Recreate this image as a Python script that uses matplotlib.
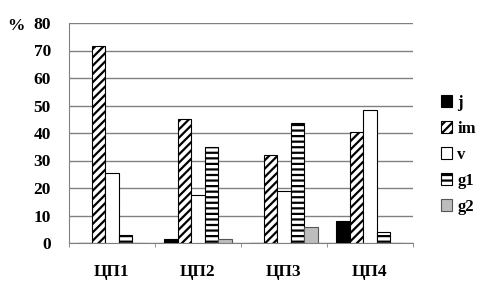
import matplotlib
matplotlib.use("Agg")
import matplotlib.pyplot as plt
import numpy as np

categories = ["ЦП1", "ЦП2", "ЦП3", "ЦП4"]
series_names = ["j", "im", "v", "g1", "g2"]
j = [0, 1.5, 0, 8]
im = [71.5, 45, 32, 40.5]
v = [25.5, 17.5, 19, 48.5]
g1 = [3, 35, 43.8, 4]
g2 = [0, 1.5, 6, 0]
yticks = [0, 10, 20, 30, 40, 50, 60, 70, 80]

plt.rcParams['font.family'] = ['Liberation Serif', 'DejaVu Serif']
plt.rcParams['hatch.linewidth'] = 1.6

fig = plt.figure(figsize=(4.79, 2.87), dpi=100)
ax = fig.add_axes([69/479, 1-243/287, (413-69)/479, (243-23)/287])

styles = [
    dict(color='black', edgecolor='black', hatch=None),
    dict(color='white', edgecolor='black', hatch='////'),
    dict(color='white', edgecolor='black', hatch=None),
    dict(color='white', edgecolor='black', hatch='---'),
    dict(color='#bdbdbd', edgecolor='#555555', hatch=None),
]
data = [j, im, v, g1, g2]
x = np.arange(len(categories))
w = 0.158
for i, (name, vals, st) in enumerate(zip(series_names, data, styles)):
    ax.bar(x + (i - 2) * w, vals, w, label=name, color=st['color'],
           edgecolor=st['edgecolor'], hatch=st['hatch'], linewidth=0.8, zorder=3)

ax.set_xlim(-0.5, 3.5)
ax.set_ylim(0, 80)
ax.set_yticks(yticks)
ax.set_yticklabels([str(t) for t in yticks], fontsize=12.5, fontweight='bold')
ax.yaxis.grid(True, color='#808080', linewidth=1)
ax.set_axisbelow(True)
ax.tick_params(axis='y', length=0, pad=13)
ax.set_xticks(x)
ax.set_xticklabels(categories, fontsize=12.5, fontweight='bold')
ax.tick_params(axis='x', length=0, pad=15)
ax.set_xticks(np.arange(-0.5, 4, 1), minor=True)
ax.tick_params(axis='x', which='minor', length=3, color='#808080')
for s in ['top', 'right']:
    ax.spines[s].set_visible(False)
for s in ['left', 'bottom']:
    ax.spines[s].set_color('#808080')

fig.text(7/479, 1-26/287, "%", fontsize=12.5, fontweight='bold', va='center')

leg = fig.legend(loc='upper left', bbox_to_anchor=(434/479, 1-88/287), frameon=False,
                 prop={'size': 12, 'weight': 'bold'}, handlelength=0.7, handleheight=0.7,
                 handletextpad=0.3, labelspacing=0.6, borderaxespad=0)

fig.savefig("out.png", dpi=100)
